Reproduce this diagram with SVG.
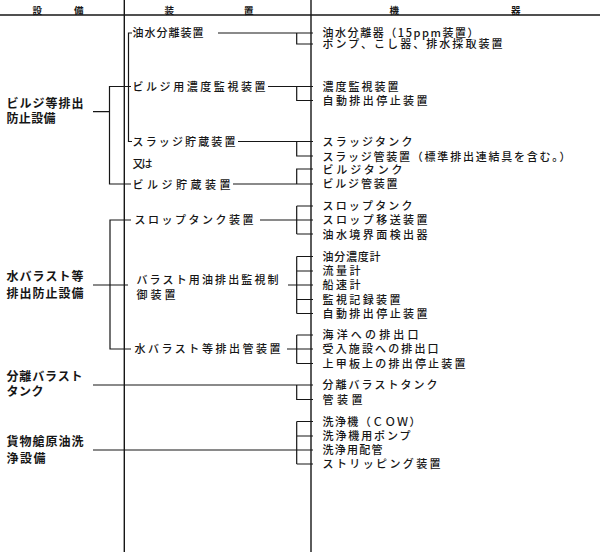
<svg xmlns="http://www.w3.org/2000/svg" width="600" height="552" viewBox="0 0 600 552">
<style>
text{font-family:"Noto Sans CJK JP","Noto Sans",sans-serif;fill:#161616}
.h{font-size:9.5px;font-weight:700}
.l{font-size:12px;font-weight:700}
.m{font-size:11px;font-weight:500}
.r{font-size:11px;font-weight:500}
.ln{stroke:#161616;stroke-width:1.2;fill:none}
.col{stroke:#161616;stroke-width:1.4;fill:none}
</style>
<rect width="600" height="552" fill="#ffffff"/>
<g id="frame">
<line class="col" x1="0" y1="15" x2="600" y2="15"/>
<line class="col" x1="124.3" y1="0" x2="124.3" y2="552"/>
<line class="col" x1="311" y1="0" x2="311" y2="552"/>
</g>
<g id="header">
<text class="h" x="32.5" y="13.5" textLength="51" lengthAdjust="spacing">設備</text>
<text class="h" x="164.5" y="13.5" textLength="89" lengthAdjust="spacing">装置</text>
<text class="h" x="389.5" y="13.5" textLength="131" lengthAdjust="spacing">機器</text>
</g>
<g id="connectors">
<path class="ln" d="M93,111.7H109.5M131,86.5H109.5V184H131"/>
<path class="ln" d="M132,33H128.5V141.5H132"/>
<path class="ln" d="M218,33H313M296.7,33V44H313"/>
<path class="ln" d="M268,86.5H313M296.7,86.5V100.5H313"/>
<path class="ln" d="M238,141.5H313M296.7,141.5V156H313"/>
<path class="ln" d="M233,184H313M296.7,184V169H313"/>
<path class="ln" d="M93,285H128M131,220H110V349H131"/>
<path class="ln" d="M260,220H313M296.7,206V234M296.7,206H313M296.7,234H313"/>
<path class="ln" d="M288,285H313M296.7,256.5V313.5M296.7,256.5H313M296.7,271H313M296.7,299.5H313M296.7,313.5H313"/>
<path class="ln" d="M287,349H313M296.7,335V363.5M296.7,335H313M296.7,363.5H313"/>
<path class="ln" d="M93,385H313M296.7,385V399.5H313"/>
<path class="ln" d="M93,450H313M296.7,421.5V464M296.7,421.5H313M296.7,436H313M296.7,464H313"/>
</g>
<g id="bilge">
<text class="l" x="6.5" y="107.9" textLength="77" lengthAdjust="spacing">ビルジ等排出</text>
<text class="l" x="6.5" y="122.9" textLength="49" lengthAdjust="spacing">防止設備</text>
</g>
<g id="ballast">
<text class="l" x="6.5" y="281.3" textLength="77" lengthAdjust="spacing">水バラスト等</text>
<text class="l" x="6.5" y="297.9" textLength="77" lengthAdjust="spacing">排出防止設備</text>
</g>
<g id="segregated">
<text class="l" x="6.5" y="381.3" textLength="76" lengthAdjust="spacing">分離バラスト</text>
<text class="l" x="6.5" y="396.3" textLength="37" lengthAdjust="spacing">タンク</text>
</g>
<g id="cow">
<text class="l" x="6.5" y="446.3" textLength="77" lengthAdjust="spacing">貨物艙原油洗</text>
<text class="l" x="6.5" y="462.9" textLength="39" lengthAdjust="spacing">浄設備</text>
</g>
<g id="devices">
<text class="m" x="132.5" y="37.2" textLength="71" lengthAdjust="spacing">油水分離装置</text>
<text class="m" x="132.5" y="90.7" textLength="133" lengthAdjust="spacing">ビルジ用濃度監視装置</text>
<text class="m" x="132.5" y="145.7" textLength="103" lengthAdjust="spacing">スラッジ貯蔵装置</text>
<text class="m" x="132.5" y="167.5" textLength="20" lengthAdjust="spacing">又は</text>
<text class="m" x="132.5" y="188.5" textLength="98" lengthAdjust="spacing">ビルジ貯蔵装置</text>
<text class="m" x="134.5" y="224.2" textLength="119" lengthAdjust="spacing">スロップタンク装置</text>
<text class="m" x="136.5" y="284.2" textLength="142" lengthAdjust="spacing">バラスト用油排出監視制</text>
<text class="m" x="136.5" y="298.5" textLength="39" lengthAdjust="spacing">御装置</text>
<text class="m" x="134.5" y="353.2" textLength="146" lengthAdjust="spacing">水バラスト等排出管装置</text>
</g>
<g id="equipment">
<text class="r" x="322.5" y="36.7" textLength="156" lengthAdjust="spacing">油水分離器（15ppm装置）</text>
<text class="r" x="322.5" y="47.7" textLength="180" lengthAdjust="spacing">ポンプ、こし器、排水採取装置</text>
<text class="r" x="322.5" y="90.5" textLength="76" lengthAdjust="spacing">濃度監視装置</text>
<text class="r" x="322.5" y="104.9" textLength="105" lengthAdjust="spacing">自動排出停止装置</text>
<text class="r" x="322.5" y="145.9" textLength="90" lengthAdjust="spacing">スラッジタンク</text>
<text class="r" x="322.5" y="160.9" textLength="248" lengthAdjust="spacing">スラッジ管装置（標準排出連結具を含む。）</text>
<text class="r" x="322.5" y="173.5" textLength="80" lengthAdjust="spacing">ビルジタンク</text>
<text class="r" x="322.5" y="187.5" textLength="75" lengthAdjust="spacing">ビルジ管装置</text>
<text class="r" x="322.5" y="210.2" textLength="90" lengthAdjust="spacing">スロップタンク</text>
<text class="r" x="322.5" y="224.2" textLength="105" lengthAdjust="spacing">スロップ移送装置</text>
<text class="r" x="322.5" y="238.5" textLength="105" lengthAdjust="spacing">油水境界面検出器</text>
<text class="r" x="322.5" y="260.9" textLength="58" lengthAdjust="spacing">油分濃度計</text>
<text class="r" x="322.5" y="275.2" textLength="38" lengthAdjust="spacing">流量計</text>
<text class="r" x="322.5" y="289.2" textLength="38" lengthAdjust="spacing">船速計</text>
<text class="r" x="322.5" y="303.5" textLength="78" lengthAdjust="spacing">監視記録装置</text>
<text class="r" x="322.5" y="317.5" textLength="105" lengthAdjust="spacing">自動排出停止装置</text>
<text class="r" x="322.5" y="339.2" textLength="96" lengthAdjust="spacing">海洋への排出口</text>
<text class="r" x="322.5" y="353.2" textLength="116" lengthAdjust="spacing">受入施設への排出口</text>
<text class="r" x="322.5" y="367.5" textLength="143" lengthAdjust="spacing">上甲板上の排出停止装置</text>
<text class="r" x="322.5" y="389.2" textLength="115" lengthAdjust="spacing">分離バラストタンク</text>
<text class="r" x="322.5" y="404.2" textLength="40" lengthAdjust="spacing">管装置</text>
<text class="r" x="322.5" y="425.9" textLength="98" lengthAdjust="spacing">洗浄機（ＣＯＷ）</text>
<text class="r" x="322.5" y="439.9" textLength="88" lengthAdjust="spacing">洗浄機用ポンプ</text>
<text class="r" x="322.5" y="454.2" textLength="60" lengthAdjust="spacing">洗浄用配管</text>
<text class="r" x="322.5" y="468.2" textLength="118" lengthAdjust="spacing">ストリッピング装置</text>
</g>
</svg>
